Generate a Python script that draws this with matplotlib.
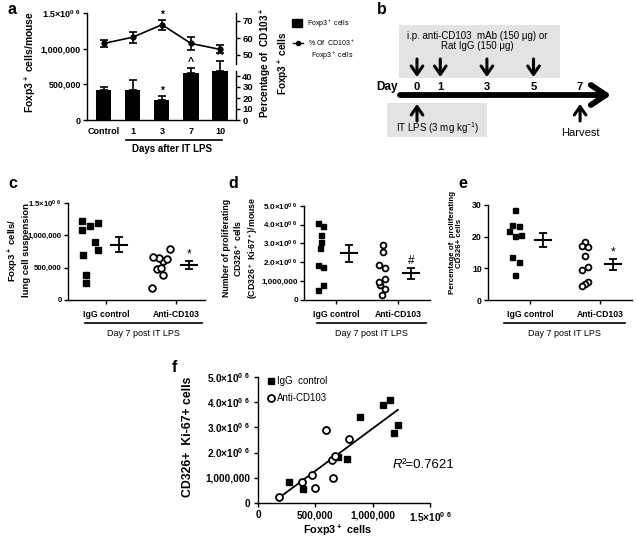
import numpy as np
import matplotlib
matplotlib.use("Agg")
import matplotlib.pyplot as plt
from matplotlib.patches import Rectangle

# ---- data -----------------------------------------------------------------
# a: Foxp3+ cells per mouse (bars) and % CD103+ of Foxp3+ (line) after IT LPS
a_days = ["Control", "1", "3", "7", "10"]
a_cells = [420e3, 420e3, 280e3, 665e3, 690e3]
a_cells_sem = [45e3, 140e3, 50e3, 65e3, 140e3]
a_pct = [56.8, 60.5, 67.8, 56.8, 53.3]
a_pct_sem = [1.9, 3.3, 2.8, 4.0, 2.3]
a_bar_marks = ["", "", "*", "^", "^"]
a_pct_marks = ["", "", "*", "", ""]

# b: treatment schedule (days)
b_ip_days = [0, 1, 3, 5]
b_lps_day = 0
b_harvest_day = 7
b_axis_days = [0, 1, 3, 5, 7]

# c-f: individual mice, day 7 post IT LPS
groups = ["IgG control", "Anti-CD103"]
foxp3_igg = [270e3, 390e3, 700e3, 780e3, 890e3, 1090e3, 1150e3, 1190e3, 1220e3]
prolif_igg = [0.81e6, 0.53e6, 1.84e6, 1.73e6, 3.43e6, 3.90e6, 4.10e6, 2.77e6, 3.10e6]
foxp3_anti = [184e3, 387e3, 475e3, 495e3, 597e3, 650e3, 641e3, 670e3, 792e3]
prolif_anti = [0.24e6, 0.81e6, 1.10e6, 0.57e6, 2.90e6, 0.97e6, 1.70e6, 1.86e6, 2.54e6]
pct_igg = [28.4, 23.7, 23.5, 21.9, 20.5, 20.3, 13.5, 11.9, 7.9]
pct_anti = [18.4, 17.0, 16.6, 14.0, 10.5, 9.5, 5.8, 5.0, 4.4]
c_marks = ["", "*"]
d_marks = ["", "#"]
e_marks = ["", "*"]
r2_value = "0.7621"

# ---- style ----------------------------------------------------------------
ARIAL = "Liberation Sans"
plt.rcParams["font.family"] = [ARIAL, "DejaVu Sans"]
plt.rcParams["font.weight"] = "bold"
plt.rcParams["mathtext.default"] = "regular"
plt.rcParams["axes.linewidth"] = 1.0

W, H = 636, 541
fig = plt.figure(figsize=(W / 100, H / 100), dpi=100)
fig.patch.set_facecolor("white")


def add_ax(x0, top, x1, bottom):
    return fig.add_axes([x0 / W, 1 - bottom / H, (x1 - x0) / W, (bottom - top) / H])


def clean(ax, fs=7.5):
    for s in ("top", "right"):
        ax.spines[s].set_visible(False)
    ax.tick_params(direction="out", length=3, width=1.0, labelsize=fs, pad=1.5)
    for lab in ax.get_xticklabels() + ax.get_yticklabels():
        lab.set_weight("bold")


page = add_ax(0, 0, W, H)
page.set_xlim(0, W)
page.set_ylim(H, 0)
page.axis("off")
page.set_zorder(10)
page.patch.set_visible(False)

SUP6 = "10$^{0\\ 6}$"

# ---- panel a --------------------------------------------------------------
xa = np.arange(len(a_days))
ax_a = add_ax(87, 13, 236, 120)
ax_a.set_xlim(-0.58, 4.55)
ax_a.set_ylim(0, 1.5e6)
ax_a.bar(xa, a_cells, width=0.52, color="k", zorder=2)
ax_a.errorbar(xa, a_cells, yerr=[np.zeros(len(xa)), a_cells_sem], fmt="none",
              ecolor="k", elinewidth=1.2, capsize=3.2, capthick=1.2, zorder=2)
for x, v, s, m in zip(xa, a_cells, a_cells_sem, a_bar_marks):
    if m:
        ax_a.text(x, v + s + 15e3, m, ha="center", va="bottom", fontsize=7.5)
ax_a.set_yticks([0, 500e3, 1e6, 1.5e6])
ax_a.set_yticklabels(["0", "500,000", "1,000,000", "1.5×" + SUP6])
ax_a.set_xticks(xa)
ax_a.set_xticklabels(a_days)
clean(ax_a, fs=6.5)
ax_a.tick_params(axis="x", length=0, pad=5)
page.text(30, 62, "Foxp3$^+$ cells/mouse", rotation=90, ha="center", va="center",
          fontsize=7.5)

ax_lo = add_ax(87, 70.5, 236, 120)
ax_hi = add_ax(87, 12.5, 236, 63.5)
for ax, lim, ticks in ((ax_lo, (0, 45), [0, 10, 20, 30, 40]), (ax_hi, (45, 75), [50, 60, 70])):
    ax.patch.set_visible(False)
    ax.set_xlim(ax_a.get_xlim())
    ax.set_ylim(*lim)
    for s in ("top", "left", "bottom"):
        ax.spines[s].set_visible(False)
    ax.yaxis.tick_right()
    ax.set_xticks([])
    ax.set_yticks(ticks)
    ax.tick_params(axis="y", direction="out", length=3, width=1.0, labelsize=6.8, pad=1.5)
    for lab in ax.get_yticklabels():
        lab.set_weight("bold")
ax_hi.errorbar(xa, a_pct, yerr=a_pct_sem, fmt="-o", color="k", ms=3.5, lw=1.2,
               capsize=3.2, capthick=1.2, clip_on=False)
for x, v, s, m in zip(xa, a_pct, a_pct_sem, a_pct_marks):
    if m:
        ax_hi.text(x, v + s + 0.3, m, ha="center", va="bottom", fontsize=7.5)

page.text(274, 63, "Percentage of  CD103$^+$\nFoxp3$^+$ cells", rotation=90, ha="center",
          va="center", fontsize=7.2, linespacing=1.25)
page.plot([126, 222], [140, 140], color="k", lw=1.2)
page.text(172, 149, "Days after IT LPS", ha="center", va="center", fontsize=7)
# legend of a
page.add_patch(Rectangle((292, 19), 10, 8, color="k"))
page.text(307, 23.5, "Foxp3$^+$ cells", fontsize=5, weight="normal", va="center")
page.plot([293, 303], [43, 43], color="k", lw=1.0)
page.plot([298], [43], "o", color="k", ms=3)
page.text(308, 43, "% Of  CD103$^+$", fontsize=5, weight="normal", va="center")
page.text(311, 56, "Foxp3$^+$ cells", fontsize=5, weight="normal", va="center")

# ---- panel b --------------------------------------------------------------
ax_b = add_ax(370, 0, 620, 150)
ax_b.set_xlim((370 - 417) / 23.3, (620 - 417) / 23.3)
ax_b.set_ylim(150, 0)
ax_b.axis("off")
ax_b.add_patch(Rectangle((-0.77, 25), 6.91, 53, color="#e3e3e3", lw=0))
ax_b.add_patch(Rectangle((-1.29, 103), 4.29, 34, color="#e3e3e3", lw=0))
ax_b.text(2.58, 41, "i.p. anti-CD103  mAb (150 \u03bcg) or\nRat IgG (150 \u03bcg)", ha="center",
          va="center", fontsize=7, weight="normal", linespacing=1.1)
arrow_small = dict(arrowstyle="->,head_length=0.5,head_width=0.35", lw=2.2,
                   color="k", mutation_scale=12, shrinkA=0, shrinkB=0)
for d in b_ip_days:
    ax_b.annotate("", xy=(d, 77), xytext=(d, 59), arrowprops=arrow_small)
for d in (b_lps_day, b_harvest_day):
    ax_b.annotate("", xy=(d, 104), xytext=(d, 121), arrowprops=arrow_small)
ax_b.annotate("", xy=(8.33, 95), xytext=(-0.73, 95),
              arrowprops=dict(arrowstyle="->,head_length=0.45,head_width=0.3", lw=4.2,
                              color="k", mutation_scale=24, shrinkA=0, shrinkB=0))
ax_b.text(-1.75, 87, "Day", ha="left", va="center", fontsize=8.5)
for d in b_axis_days:
    ax_b.text(d, 87, str(d), ha="center", va="center", fontsize=8)
ax_b.text(0.9, 128, "IT LPS (3 mg kg$^{-1}$)", ha="center", va="center", fontsize=7,
          weight="normal")
ax_b.text(b_harvest_day, 133, "Harvest", ha="center", va="center", fontsize=8,
          weight="normal")


# ---- panels c, d, e ------------------------------------------------------
def dot_panel(ax, data, unit, jit, marks, ms, mark_dy, pt_off=-15, mean_off=13):
    for i, vals in enumerate(data):
        vals = np.asarray(vals, dtype=float)
        order = np.argsort(-vals)
        xs = np.empty(len(vals))
        xs[order] = i + (pt_off + np.asarray(jit[i])) / unit
        if i == 0:
            ax.plot(xs, vals, "s", ms=ms, mfc="k", mec="k", ls="none", clip_on=False, zorder=3)
        else:
            ax.plot(xs, vals, "o", ms=ms + 0.6, mfc="white", mec="k", mew=1.3, ls="none",
                    clip_on=False, zorder=3)
        m = vals.mean()
        s = vals.std(ddof=1) / np.sqrt(len(vals))
        xc = i + mean_off / unit
        ax.plot([xc - 8 / unit, xc + 8 / unit], [m, m], color="k", lw=1.5)
        ax.errorbar([xc], [m], yerr=[s], fmt="none", ecolor="k", elinewidth=1.3,
                    capsize=3.2, capthick=1.3)
        if marks[i]:
            ax.text(xc, m + s + mark_dy, marks[i], ha="center", va="bottom", fontsize=8.5,
                    weight="normal")


jit_c = [[-8, 8, 0, -8, 5, 8, -7, -4, -4], [10, -7, -1, 7, 3, 1, -3, 3, -8]]
jit_d = [[-3, 2, 0, 0, -1, -3, 2, 2, -3], [0, 0, -4, 2, 2, -4, -3, 2, -1]]
jit_e = [[0, -3, 4, -6, 6, 0, -3, 4, 0], [0, -3, 3, 0, 3, -3, 3, 0, -3]]

# c
ax_c = add_ax(68, 203, 205, 300)
ax_c.set_xlim((68 - 106) / 70, (205 - 106) / 70)
ax_c.set_ylim(0, 1.5e6)
dot_panel(ax_c, [foxp3_igg, foxp3_anti], 70, jit_c, c_marks, 4.2, 10e3, -16, 13)
ax_c.set_yticks([0, 500e3, 1e6, 1.5e6])
ax_c.set_yticklabels(["0", "500,000", "1,000,000", "1.5×" + SUP6])
ax_c.set_xticks([0, 1])
ax_c.set_xticklabels(groups)
clean(ax_c, fs=5.6)
ax_c.tick_params(axis="x", pad=4, labelsize=6.2)
page.text(18, 250, "Foxp3$^+$ cells/\nlung cell suspension", rotation=90, ha="center",
          va="center", fontsize=6.8, linespacing=1.15)

# d
ax_d = add_ax(304, 205.7, 430, 300)
ax_d.set_xlim((304 - 336) / 62, (430 - 336) / 62)
ax_d.set_ylim(0, 5e6)
dot_panel(ax_d, [prolif_igg, prolif_anti], 62, jit_d, d_marks, 3.6, 60e3)
ax_d.set_yticks([0, 1e6, 2e6, 3e6, 4e6, 5e6])
ax_d.set_yticklabels(["0", "1,000,000"] + ["%d.0×" % k + SUP6 for k in (2, 3, 4, 5)])
ax_d.set_xticks([0, 1])
ax_d.set_xticklabels(groups)
clean(ax_d, fs=5.8)
ax_d.tick_params(axis="x", pad=4, labelsize=6.2)
page.text(241, 248, "Number of proliferating\nCD326$^+$ cells\n(CD326$^+$ Ki-67$^+$)/mouse",
          rotation=90, ha="center", va="center", fontsize=6.3, linespacing=1.15)

# e
ax_e = add_ax(488, 205, 632, 300)
ax_e.set_xlim((488 - 530) / 70, (632 - 530) / 70)
ax_e.set_ylim(0, 30)
dot_panel(ax_e, [pct_igg, pct_anti], 70, jit_e, e_marks, 3.6, 0.2)
ax_e.set_yticks([0, 10, 20, 30])
ax_e.set_xticks([0, 1])
ax_e.set_xticklabels(groups)
clean(ax_e, fs=6.3)
ax_e.tick_params(axis="x", pad=4, labelsize=6.2)
page.text(456, 243, "Percentage of  proliferating\nCD326+ cells", rotation=90, ha="center",
          va="center", fontsize=5.7, linespacing=1.15)

for x0, x1 in ((85, 202), (317, 426), (504, 625)):
    page.plot([x0, x1], [323, 323], color="k", lw=1.2)
    page.text((x0 + x1) / 2, 334, "Day 7 post IT LPS", ha="center", va="center",
              fontsize=6.5, weight="normal")

# ---- panel f --------------------------------------------------------------
ax_f = add_ax(258, 377.3, 430, 502.7)
ax_f.set_xlim(0, 1.5e6)
ax_f.set_ylim(0, 5e6)
ax_f.plot(foxp3_igg, prolif_igg, "s", ms=5, color="k", ls="none", clip_on=False, zorder=3)
ax_f.plot(foxp3_anti, prolif_anti, "o", ms=5, mfc="white", mec="k", mew=1.3, ls="none",
          clip_on=False, zorder=3)
allx = np.concatenate([foxp3_igg, foxp3_anti])
ally = np.concatenate([prolif_igg, prolif_anti])
k, b0 = np.polyfit(allx, ally, 1)
xx = np.array([allx.min(), allx.max()])
ax_f.plot(xx, k * xx + b0, color="k", lw=1.3, zorder=2)
ax_f.set_xticks([0, 500e3, 1e6, 1.5e6])
ax_f.set_xticklabels(["0", "500,000", "1,000,000", "1.5×" + SUP6])
ax_f.set_yticks([0, 1e6, 2e6, 3e6, 4e6, 5e6])
ax_f.set_yticklabels(["0", "1,000,000"] + ["%d.0×" % k + SUP6 for k in (2, 3, 4, 5)])
clean(ax_f, fs=7.2)
ax_f.tick_params(pad=2.5)
page.text(337, 530, "Foxp3$^+$ cells", ha="center", va="center", fontsize=7.8)
page.text(188, 437, "CD326+  Ki-67+ cells", rotation=90, ha="center", va="center",
          fontsize=8.8)
page.plot([271], [381], "s", ms=5, color="k")
page.text(277, 381, "IgG  control", fontsize=7, weight="normal", va="center")
page.plot([271], [398], "o", ms=5, mfc="white", mec="k", mew=1.3)
page.text(277, 398, "Anti-CD103", fontsize=7, weight="normal", va="center")
page.text(393, 465, "R", fontsize=9.5, weight="normal", style="italic", va="center")
page.text(402, 465, "\u00b2=" + r2_value, fontsize=9.5, weight="normal", va="center")

# ---- panel letters --------------------------------------------------------
for lab, x, y in (("a", 7, 10), ("b", 377, 10), ("c", 8, 183), ("d", 228, 183),
                  ("e", 458, 183), ("f", 172, 367)):
    page.text(x, y, lab, fontsize=11.5, ha="left", va="center")

fig.savefig("out.png", dpi=100)
